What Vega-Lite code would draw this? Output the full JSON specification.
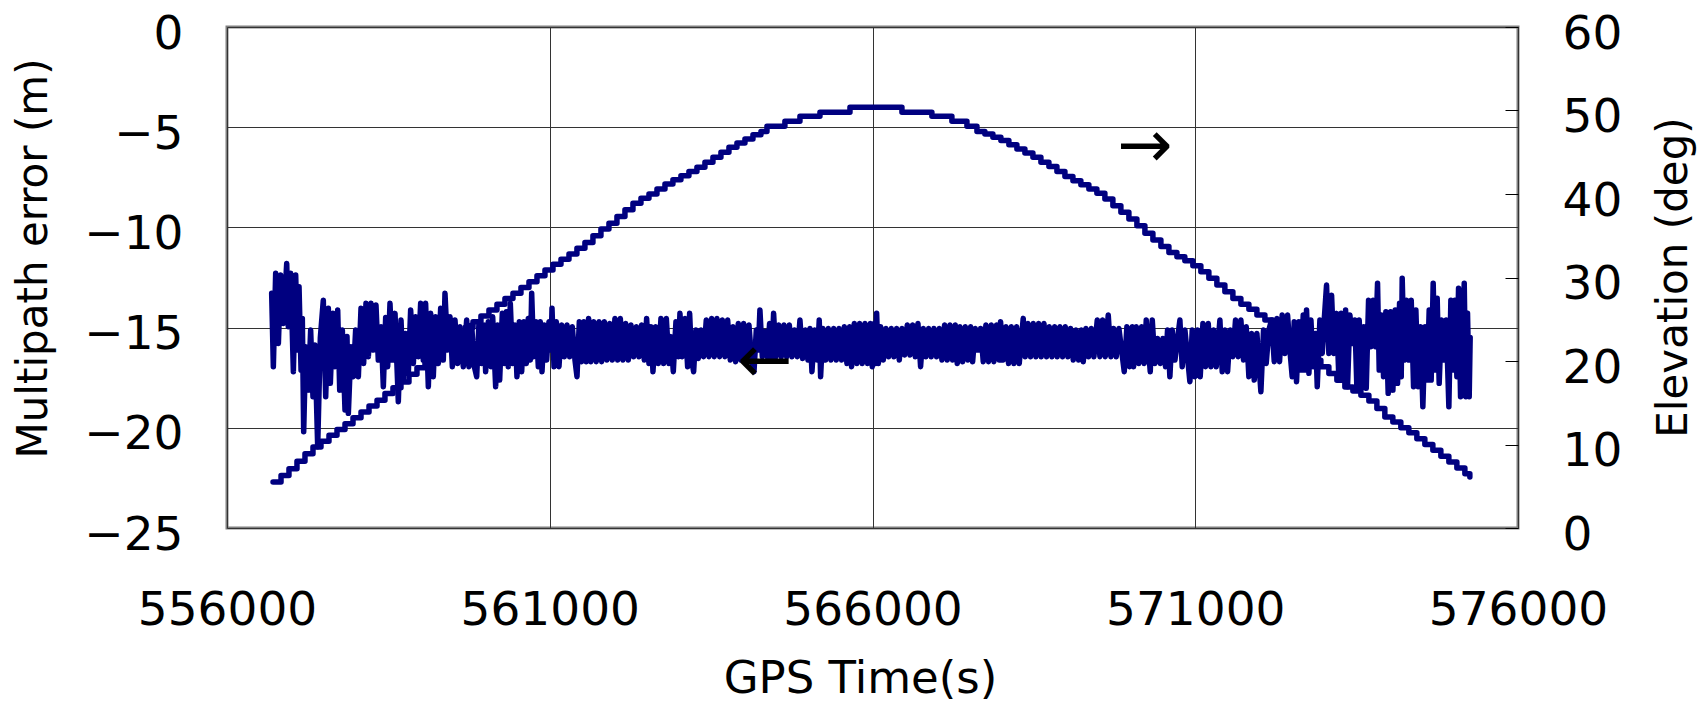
{
  "$schema": "https://vega.github.io/schema/vega-lite/v6.json",
  "autosize": {"type": "none"},
  "padding": {"left": 227, "top": 27, "right": 188, "bottom": 176},
  "width": 1291,
  "height": 501,
  "background": "white",
  "config": {
    "view": {"stroke": "#808080", "strokeWidth": 3},
    "axis": {
      "labelFont": "DejaVu Sans", "labelFontSize": 47, "labelColor": "#000",
      "titleFont": "DejaVu Sans", "titleFontSize": 42, "titleFontWeight": "normal", "titleColor": "#000",
      "gridColor": "#333", "gridWidth": 1, "gridOpacity": 1, "domain": false, "labelFlush": false
    }
  },
  "datasets": {
    "el": [
      {"t":556713,"e":5.5},{"t":556837,"e":6.3},{"t":556960,"e":7.1},{"t":557084,"e":8.0},{"t":557208,"e":8.9},{"t":557332,"e":9.7},{"t":557456,"e":10.4},{"t":557580,"e":11.1},{"t":557704,"e":11.8},{"t":557828,"e":12.5},{"t":557952,"e":13.2},{"t":558076,"e":13.9},{"t":558200,"e":14.6},{"t":558324,"e":15.3},{"t":558447,"e":16.1},{"t":558571,"e":16.8},{"t":558695,"e":17.5},{"t":558819,"e":18.4},{"t":558943,"e":19.2},{"t":559067,"e":20.1},{"t":559191,"e":20.9},{"t":559315,"e":21.7},{"t":559439,"e":22.4},{"t":559563,"e":23.2},{"t":559687,"e":24.0},{"t":559811,"e":24.7},{"t":559934,"e":25.4},{"t":560058,"e":26.1},{"t":560182,"e":26.8},{"t":560306,"e":27.5},{"t":560430,"e":28.1},{"t":560554,"e":28.8},{"t":560678,"e":29.5},{"t":560802,"e":30.2},{"t":560926,"e":30.9},{"t":561050,"e":31.6},{"t":561174,"e":32.2},{"t":561298,"e":32.8},{"t":561421,"e":33.5},{"t":561545,"e":34.2},{"t":561669,"e":35.0},{"t":561793,"e":35.8},{"t":561917,"e":36.5},{"t":562041,"e":37.3},{"t":562165,"e":38.1},{"t":562289,"e":38.9},{"t":562413,"e":39.5},{"t":562537,"e":40.0},{"t":562661,"e":40.6},{"t":562785,"e":41.2},{"t":562908,"e":41.7},{"t":563032,"e":42.2},{"t":563156,"e":42.7},{"t":563280,"e":43.2},{"t":563404,"e":43.8},{"t":563528,"e":44.4},{"t":563652,"e":45.0},{"t":563776,"e":45.6},{"t":563900,"e":46.1},{"t":564024,"e":46.6},{"t":564148,"e":47.1},{"t":564272,"e":47.5},{"t":564365,"e":48.1},{"t":564643,"e":48.7},{"t":564876,"e":49.3},{"t":565186,"e":49.8},{"t":565651,"e":50.4},{"t":566456,"e":49.8},{"t":566920,"e":49.3},{"t":567230,"e":48.7},{"t":567463,"e":48.1},{"t":567618,"e":47.5},{"t":567741,"e":47.2},{"t":567865,"e":46.8},{"t":567989,"e":46.4},{"t":568113,"e":45.9},{"t":568237,"e":45.4},{"t":568361,"e":44.9},{"t":568485,"e":44.4},{"t":568609,"e":43.8},{"t":568733,"e":43.3},{"t":568857,"e":42.7},{"t":568981,"e":42.1},{"t":569105,"e":41.6},{"t":569228,"e":41.1},{"t":569352,"e":40.6},{"t":569476,"e":40.1},{"t":569600,"e":39.4},{"t":569724,"e":38.6},{"t":569848,"e":37.8},{"t":569972,"e":37.0},{"t":570096,"e":36.2},{"t":570220,"e":35.3},{"t":570344,"e":34.5},{"t":570468,"e":33.7},{"t":570592,"e":33.0},{"t":570716,"e":32.5},{"t":570839,"e":32.0},{"t":570963,"e":31.4},{"t":571087,"e":30.7},{"t":571211,"e":29.9},{"t":571335,"e":29.1},{"t":571459,"e":28.3},{"t":571583,"e":27.5},{"t":571707,"e":26.8},{"t":571831,"e":26.2},{"t":571955,"e":25.5},{"t":572079,"e":24.9},{"t":572203,"e":24.1},{"t":572326,"e":23.3},{"t":572450,"e":22.5},{"t":572574,"e":21.7},{"t":572698,"e":20.9},{"t":572822,"e":20.1},{"t":572946,"e":19.3},{"t":573070,"e":18.5},{"t":573194,"e":17.7},{"t":573318,"e":16.9},{"t":573442,"e":16.4},{"t":573566,"e":15.9},{"t":573690,"e":15.2},{"t":573814,"e":14.3},{"t":573937,"e":13.3},{"t":574061,"e":12.7},{"t":574185,"e":12.0},{"t":574309,"e":11.4},{"t":574433,"e":10.7},{"t":574557,"e":10.0},{"t":574681,"e":9.3},{"t":574805,"e":8.6},{"t":574929,"e":7.9},{"t":575053,"e":7.2},{"t":575177,"e":6.5},{"t":575254,"e":6.1}
    ],
    "mp": [
      {"t":556692,"m":-13.29},{"t":556718,"m":-16.95},{"t":556754,"m":-12.29},{"t":556796,"m":-15.79},{"t":556832,"m":-12.38},{"t":556873,"m":-14.79},{"t":556925,"m":-11.8},{"t":556950,"m":-14.96},{"t":556987,"m":-12.29},{"t":557028,"m":-17.2},{"t":557064,"m":-12.38},{"t":557095,"m":-16.12},{"t":557116,"m":-12.96},{"t":557147,"m":-17.12},{"t":557167,"m":-14.54},{"t":557188,"m":-20.2},{"t":557219,"m":-15.95},{"t":557260,"m":-18.12},{"t":557296,"m":-15.12},{"t":557332,"m":-18.45},{"t":557363,"m":-15.87},{"t":557405,"m":-20.94},{"t":557446,"m":-15.5},{"t":557492,"m":-13.63},{"t":557529,"m":-18.45},{"t":557570,"m":-14.04},{"t":557601,"m":-17.78},{"t":557642,"m":-14.29},{"t":557673,"m":-16.95},{"t":557715,"m":-14.12},{"t":557746,"m":-18.12},{"t":557787,"m":-15.12},{"t":557828,"m":-19.11},{"t":557859,"m":-15.45},{"t":557880,"m":-19.28},{"t":557921,"m":-15.95},{"t":557957,"m":-17.45},{"t":557993,"m":-15.12},{"t":558035,"m":-17.45},{"t":558076,"m":-14.04},{"t":558117,"m":-16.79},{"t":558153,"m":-13.79},{"t":558190,"m":-16.45},{"t":558231,"m":-13.79},{"t":558267,"m":-16.12},{"t":558308,"m":-13.87},{"t":558344,"m":-16.62},{"t":558386,"m":-14.96},{"t":558422,"m":-17.95},{"t":558458,"m":-14.5},{"t":558489,"m":-16.95},{"t":558525,"m":-13.79},{"t":558561,"m":-16.62},{"t":558603,"m":-14.29},{"t":558654,"m":-18.7},{"t":558696,"m":-14.62},{"t":558732,"m":-17.62},{"t":558768,"m":-15.29},{"t":558809,"m":-17.28},{"t":558845,"m":-14.12},{"t":558887,"m":-16.79},{"t":558923,"m":-14.46},{"t":558964,"m":-16.45},{"t":559000,"m":-13.79},{"t":559041,"m":-16.62},{"t":559077,"m":-13.79},{"t":559119,"m":-17.95},{"t":559155,"m":-14.29},{"t":559196,"m":-17.45},{"t":559232,"m":-14.46},{"t":559274,"m":-16.79},{"t":559310,"m":-14.04},{"t":559351,"m":-16.62},{"t":559377,"m":-13.29},{"t":559418,"m":-16.12},{"t":559455,"m":-14.46},{"t":559491,"m":-16.95},{"t":559532,"m":-14.62},{"t":559573,"m":-16.79},{"t":559609,"m":-14.96},{"t":559661,"m":-16.95},{"t":559713,"m":-14.62},
      {"t":559749,"m":-16.95},{"t":559790,"m":-14.87},{"t":559832,"m":-16.95},{"t":559868,"m":-17.45},{"t":559904,"m":-14.71},{"t":559945,"m":-16.79},{"t":559981,"m":-14.87},{"t":560007,"m":-17.2},{"t":560048,"m":-14.71},{"t":560090,"m":-16.95},{"t":560116,"m":-14.46},{"t":560162,"m":-17.95},{"t":560193,"m":-14.87},{"t":560224,"m":-17.62},{"t":560265,"m":-14.29},{"t":560296,"m":-16.79},{"t":560327,"m":-14.21},{"t":560358,"m":-16.95},{"t":560389,"m":-13.79},{"t":560425,"m":-16.79},{"t":560461,"m":-14.87},{"t":560492,"m":-17.45},{"t":560529,"m":-14.71},{"t":560565,"m":-17.2},{"t":560601,"m":-14.71},{"t":560637,"m":-16.79},{"t":560668,"m":-14.54},{"t":560699,"m":-16.62},{"t":560720,"m":-13.29},{"t":560751,"m":-16.45},{"t":560787,"m":-14.71},{"t":560823,"m":-16.95},{"t":560854,"m":-14.71},{"t":560880,"m":-17.2},{"t":560916,"m":-14.87},{"t":560952,"m":-16.62},{"t":560988,"m":-14.71},{"t":561019,"m":-16.12},{"t":561035,"m":-14.04},{"t":561066,"m":-16.95},{"t":561102,"m":-14.71},{"t":561143,"m":-16.95},{"t":561184,"m":-14.87},{"t":561226,"m":-16.45},{"t":561267,"m":-14.87},{"t":561308,"m":-16.45},{"t":561349,"m":-14.96},{"t":561391,"m":-16.62},{"t":561422,"m":-17.45},{"t":561458,"m":-14.71},{"t":561494,"m":-16.7},{"t":561530,"m":-14.71},{"t":561566,"m":-16.7},{"t":561602,"m":-14.54},{"t":561639,"m":-16.7},{"t":561680,"m":-14.71},{"t":561721,"m":-16.7},{"t":561763,"m":-14.71},{"t":561804,"m":-16.7},{"t":561845,"m":-14.71},{"t":561886,"m":-16.62},{"t":561928,"m":-14.79},{"t":561969,"m":-16.62},{"t":562010,"m":-14.54},{"t":562052,"m":-16.62},{"t":562093,"m":-14.54},{"t":562134,"m":-16.62},{"t":562176,"m":-14.79},{"t":562217,"m":-16.62},{"t":562258,"m":-14.87},{"t":562300,"m":-16.45},{"t":562341,"m":-14.96},{"t":562382,"m":-16.45},{"t":562423,"m":-14.87},{"t":562465,"m":-16.62},{"t":562501,"m":-14.54},{"t":562537,"m":-16.79},{"t":562568,"m":-14.96},{"t":562599,"m":-17.2},{"t":562640,"m":-14.96},{"t":562682,"m":-16.79},{"t":562723,"m":-14.54},{"t":562764,"m":-16.79},{"t":562806,"m":-14.54},{"t":562847,"m":-16.79},
      {"t":562878,"m":-15.45},{"t":562914,"m":-17.2},{"t":562955,"m":-14.71},{"t":562992,"m":-16.45},{"t":563017,"m":-14.29},{"t":563053,"m":-16.45},{"t":563095,"m":-14.54},{"t":563136,"m":-16.95},{"t":563167,"m":-14.29},{"t":563198,"m":-16.62},{"t":563229,"m":-17.2},{"t":563265,"m":-15.12},{"t":563301,"m":-16.54},{"t":563343,"m":-15.12},{"t":563384,"m":-16.45},{"t":563425,"m":-14.62},{"t":563467,"m":-16.45},{"t":563508,"m":-14.54},{"t":563549,"m":-16.45},{"t":563590,"m":-14.54},{"t":563632,"m":-16.45},{"t":563673,"m":-14.62},{"t":563714,"m":-16.45},{"t":563756,"m":-14.62},{"t":563797,"m":-16.62},{"t":563838,"m":-14.96},{"t":563880,"m":-16.7},{"t":563921,"m":-14.79},{"t":563962,"m":-16.62},{"t":564003,"m":-14.79},{"t":564045,"m":-16.62},{"t":564086,"m":-14.87},{"t":564127,"m":-16.62},{"t":564164,"m":-17.2},{"t":564200,"m":-15.12},{"t":564231,"m":-16.12},{"t":564256,"m":-14.12},{"t":564293,"m":-16.45},{"t":564334,"m":-15.2},{"t":564370,"m":-16.45},{"t":564406,"m":-14.79},{"t":564437,"m":-16.62},{"t":564468,"m":-14.29},{"t":564504,"m":-16.45},{"t":564546,"m":-14.87},{"t":564587,"m":-16.45},{"t":564628,"m":-14.87},{"t":564670,"m":-16.45},{"t":564711,"m":-14.87},{"t":564752,"m":-16.45},{"t":564793,"m":-15.12},{"t":564835,"m":-16.45},{"t":564876,"m":-14.62},{"t":564917,"m":-16.54},{"t":564959,"m":-15.12},{"t":565000,"m":-16.62},{"t":565031,"m":-15.04},{"t":565062,"m":-17.2},{"t":565103,"m":-15.12},{"t":565145,"m":-16.62},{"t":565175,"m":-14.62},{"t":565196,"m":-17.45},{"t":565232,"m":-15.04},{"t":565274,"m":-16.62},{"t":565315,"m":-15.04},{"t":565356,"m":-16.62},{"t":565398,"m":-15.04},{"t":565439,"m":-16.62},{"t":565480,"m":-15.04},{"t":565521,"m":-16.62},{"t":565563,"m":-14.96},{"t":565604,"m":-16.79},{"t":565645,"m":-14.96},{"t":565676,"m":-16.95},{"t":565718,"m":-14.79},{"t":565759,"m":-16.79},{"t":565800,"m":-14.79},{"t":565841,"m":-16.79},{"t":565883,"m":-14.79},{"t":565924,"m":-16.79},
      {"t":565966,"m":-14.79},{"t":565997,"m":-16.95},{"t":566028,"m":-14.79},{"t":566048,"m":-16.79},{"t":566064,"m":-14.29},{"t":566090,"m":-16.79},{"t":566126,"m":-14.96},{"t":566167,"m":-16.62},{"t":566208,"m":-15.04},{"t":566250,"m":-16.45},{"t":566291,"m":-15.04},{"t":566332,"m":-16.45},{"t":566373,"m":-15.04},{"t":566415,"m":-16.62},{"t":566456,"m":-15.04},{"t":566497,"m":-16.37},{"t":566539,"m":-14.87},{"t":566580,"m":-16.37},{"t":566621,"m":-14.87},{"t":566663,"m":-16.45},{"t":566704,"m":-14.79},{"t":566745,"m":-16.95},{"t":566787,"m":-15.04},{"t":566828,"m":-16.45},{"t":566869,"m":-15.04},{"t":566910,"m":-16.45},{"t":566952,"m":-15.04},{"t":566993,"m":-16.45},{"t":567034,"m":-15.04},{"t":567076,"m":-16.62},{"t":567117,"m":-14.87},{"t":567158,"m":-16.62},{"t":567200,"m":-14.87},{"t":567241,"m":-16.62},{"t":567282,"m":-14.87},{"t":567313,"m":-16.79},{"t":567354,"m":-14.96},{"t":567396,"m":-16.7},{"t":567437,"m":-14.96},{"t":567478,"m":-16.62},{"t":567520,"m":-14.96},{"t":567551,"m":-16.7},{"t":567592,"m":-15.04},{"t":567633,"m":-16.12},{"t":567675,"m":-15.04},{"t":567716,"m":-16.7},{"t":567757,"m":-14.87},{"t":567798,"m":-16.7},{"t":567840,"m":-14.87},{"t":567881,"m":-16.7},{"t":567922,"m":-14.87},{"t":567964,"m":-16.62},{"t":567984,"m":-14.71},{"t":568025,"m":-16.62},{"t":568067,"m":-14.96},{"t":568108,"m":-16.79},{"t":568150,"m":-14.96},{"t":568191,"m":-16.79},{"t":568232,"m":-14.96},{"t":568273,"m":-16.79},{"t":568335,"m":-14.54},{"t":568366,"m":-16.45},{"t":568408,"m":-14.79},{"t":568449,"m":-16.45},{"t":568490,"m":-14.79},{"t":568532,"m":-16.45},{"t":568573,"m":-14.79},{"t":568614,"m":-16.45},{"t":568656,"m":-14.79},{"t":568697,"m":-16.45},{"t":568738,"m":-14.96},{"t":568780,"m":-16.45},{"t":568821,"m":-14.96},{"t":568862,"m":-16.45},{"t":568903,"m":-14.96},{"t":568945,"m":-16.45},{"t":568986,"m":-14.96},{"t":569027,"m":-16.45},
      {"t":569069,"m":-15.04},{"t":569110,"m":-16.62},{"t":569151,"m":-15.12},{"t":569193,"m":-16.62},{"t":569234,"m":-15.12},{"t":569265,"m":-16.7},{"t":569306,"m":-15.04},{"t":569348,"m":-16.45},{"t":569389,"m":-15.04},{"t":569430,"m":-16.45},{"t":569482,"m":-14.62},{"t":569523,"m":-16.45},{"t":569564,"m":-14.62},{"t":569606,"m":-16.45},{"t":569652,"m":-14.37},{"t":569693,"m":-16.45},{"t":569735,"m":-15.04},{"t":569776,"m":-16.45},{"t":569817,"m":-15.04},{"t":569900,"m":-17.2},{"t":569941,"m":-14.96},{"t":569983,"m":-16.95},{"t":570024,"m":-14.96},{"t":570045,"m":-16.95},{"t":570086,"m":-14.96},{"t":570127,"m":-16.79},{"t":570169,"m":-14.96},{"t":570210,"m":-16.79},{"t":570241,"m":-14.62},{"t":570303,"m":-17.2},{"t":570334,"m":-14.62},{"t":570375,"m":-16.79},{"t":570416,"m":-15.54},{"t":570458,"m":-16.79},{"t":570499,"m":-15.54},{"t":570540,"m":-16.95},{"t":570571,"m":-15.12},{"t":570607,"m":-17.45},{"t":570643,"m":-15.12},{"t":570685,"m":-16.62},{"t":570762,"m":-14.62},{"t":570798,"m":-16.95},{"t":570840,"m":-15.12},{"t":570917,"m":-17.7},{"t":570953,"m":-15.12},{"t":570995,"m":-17.45},{"t":571036,"m":-15.12},{"t":571077,"m":-17.45},{"t":571119,"m":-14.79},{"t":571160,"m":-16.95},{"t":571201,"m":-14.79},{"t":571242,"m":-16.95},{"t":571284,"m":-15.12},{"t":571325,"m":-16.95},{"t":571382,"m":-14.62},{"t":571418,"m":-17.2},{"t":571459,"m":-15.12},{"t":571501,"m":-17.2},{"t":571542,"m":-15.12},{"t":571583,"m":-16.45},{"t":571624,"m":-14.62},{"t":571666,"m":-16.45},{"t":571707,"m":-14.62},{"t":571748,"m":-16.62},{"t":571790,"m":-14.96},{"t":571831,"m":-17.45},{"t":571872,"m":-15.29},{"t":571914,"m":-17.62},{"t":571955,"m":-15.29},{"t":572017,"m":-18.2},{"t":572058,"m":-15.12},{"t":572099,"m":-16.79},{"t":572141,"m":-15.12},
      {"t":572182,"m":-14.62},{"t":572224,"m":-16.7},{"t":572265,"m":-14.54},{"t":572306,"m":-16.7},{"t":572347,"m":-14.37},{"t":572389,"m":-16.29},{"t":572430,"m":-14.37},{"t":572471,"m":-16.29},{"t":572502,"m":-17.45},{"t":572533,"m":-14.71},{"t":572569,"m":-17.7},{"t":572606,"m":-14.71},{"t":572637,"m":-17.12},{"t":572673,"m":-14.37},{"t":572699,"m":-17.12},{"t":572724,"m":-14.12},{"t":572761,"m":-17.28},{"t":572792,"m":-14.62},{"t":572828,"m":-16.95},{"t":572864,"m":-15.29},{"t":572890,"m":-17.95},{"t":572931,"m":-14.62},{"t":572967,"m":-16.29},{"t":572998,"m":-14.62},{"t":573034,"m":-12.88},{"t":573070,"m":-16.29},{"t":573112,"m":-13.38},{"t":573148,"m":-16.29},{"t":573189,"m":-14.29},{"t":573225,"m":-17.53},{"t":573261,"m":-14.29},{"t":573298,"m":-17.53},{"t":573329,"m":-14.12},{"t":573359,"m":-17.95},{"t":573396,"m":-14.37},{"t":573432,"m":-15.79},{"t":573473,"m":-14.62},{"t":573504,"m":-18.03},{"t":573540,"m":-14.62},{"t":573576,"m":-18.03},{"t":573612,"m":-14.96},{"t":573649,"m":-18.03},{"t":573685,"m":-13.63},{"t":573721,"m":-15.95},{"t":573757,"m":-13.63},{"t":573793,"m":-15.95},{"t":573824,"m":-12.79},{"t":573850,"m":-17.12},{"t":573886,"m":-14.37},{"t":573917,"m":-17.45},{"t":573953,"m":-14.21},{"t":573989,"m":-18.28},{"t":574026,"m":-14.21},{"t":574062,"m":-18.12},{"t":574098,"m":-14.12},{"t":574134,"m":-17.78},{"t":574165,"m":-13.79},{"t":574191,"m":-17.45},{"t":574206,"m":-12.54},{"t":574237,"m":-16.62},{"t":574273,"m":-13.63},{"t":574309,"m":-16.62},{"t":574346,"m":-13.63},{"t":574382,"m":-17.95},{"t":574418,"m":-14.12},{"t":574454,"m":-17.95},{"t":574490,"m":-14.96},{"t":574526,"m":-18.95},{"t":574562,"m":-14.96},{"t":574593,"m":-17.62},{"t":574624,"m":-14.12},{"t":574655,"m":-17.62},{"t":574686,"m":-12.79},{"t":574717,"m":-17.12},{"t":574748,"m":-13.54},{"t":574779,"m":-17.78},{"t":574815,"m":-14.62},{"t":574852,"m":-16.62},{"t":574888,"m":-14.62},{"t":574929,"m":-18.95},{"t":574960,"m":-13.63},{"t":574991,"m":-17.12},{"t":575022,"m":-13.63},{"t":575053,"m":-17.45},{"t":575079,"m":-13.04},{"t":575110,"m":-18.45},{"t":575167,"m":-12.79},{"t":575192,"m":-18.45},{"t":575218,"m":-14.29},{"t":575244,"m":-18.45},{"t":575259,"m":-15.5}
    ],
    "ar": [
      {"t":564334,"m":-16.72,"a":"←"},
      {"t":570220,"m":-5.99,"a":"→"}
    ]
  },
  "layer": [
    {
      "data": {"name": "mp"},
      "mark": {"type": "line", "color": "#000080", "strokeWidth": 5.5, "strokeCap": "round", "strokeJoin": "round"},
      "encoding": {
        "x": {
          "field": "t", "type": "quantitative",
          "scale": {"domain": [556000, 576000], "nice": false, "zero": false},
          "axis": {
            "values": [556000, 561000, 566000, 571000, 576000], "format": "d",
            "ticks": false, "labelPadding": 59, "grid": true,
            "title": "GPS Time(s)", "titleFontSize": 45, "titleX": 633, "titleY": 164, "titleBaseline": "alphabetic"
          }
        },
        "y": {
          "field": "m", "type": "quantitative",
          "scale": {"domain": [-25, 0], "nice": false, "zero": false},
          "axis": {
            "values": [-25, -20, -15, -10, -5, 0], "format": "d",
            "ticks": false, "labelPadding": 44, "labelOffset": 7, "grid": true,
            "title": "Multipath error (m)", "titleAngle": 270, "titleX": -194, "titleY": 231,
            "titleAlign": "center", "titleBaseline": "middle"
          }
        }
      }
    },
    {
      "data": {"name": "el"},
      "mark": {"type": "line", "color": "#000080", "strokeWidth": 5.5, "interpolate": "step-after", "strokeCap": "round", "strokeJoin": "round"},
      "encoding": {
        "x": {"field": "t", "type": "quantitative"},
        "y": {
          "field": "e", "type": "quantitative",
          "scale": {"domain": [0, 60], "nice": false, "zero": false},
          "axis": {
            "orient": "right", "values": [0, 10, 20, 30, 40, 50, 60], "format": "d",
            "ticks": true, "tickSize": -13, "tickColor": "#000", "tickWidth": 1,
            "labelPadding": 57, "labelOffset": 7, "grid": false,
            "title": "Elevation (deg)", "titleAngle": 270, "titleX": 155, "titleY": 250,
            "titleAlign": "center", "titleBaseline": "middle"
          }
        }
      }
    },
    {
      "data": {"name": "ar"},
      "mark": {"type": "text", "font": "DejaVu Sans", "fontSize": 66, "color": "#000", "baseline": "middle", "align": "center"},
      "encoding": {
        "x": {"field": "t", "type": "quantitative"},
        "y": {"field": "m", "type": "quantitative", "scale": {"domain": [-25, 0], "nice": false, "zero": false}, "axis": null},
        "text": {"field": "a"}
      }
    }
  ],
  "resolve": {"scale": {"y": "independent"}}
}
